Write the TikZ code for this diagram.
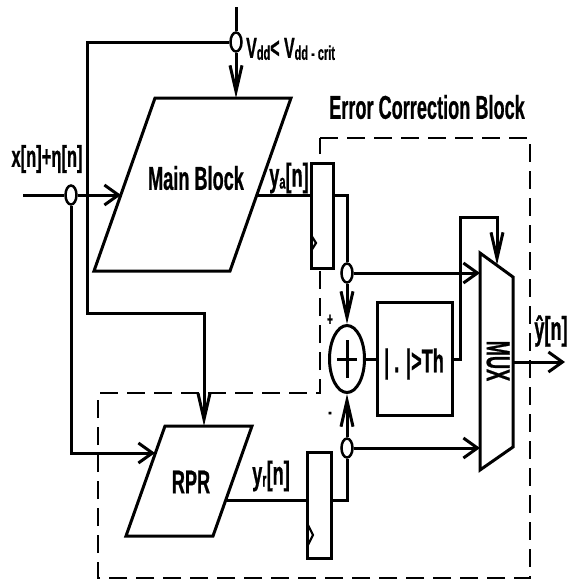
\documentclass[tikz,border=0pt]{standalone}
\usepackage{fontspec}
\setmainfont{Liberation Sans}[FakeStretch=0.55, BoldFeatures={FakeBold=0.6}]
\usetikzlibrary{arrows.meta,shapes.geometric}
\newcommand\lsub[1]{\raisebox{-2pt}{\fontsize{20}{20}\selectfont #1}}
\begin{document}
\begin{tikzpicture}[x=1pt,y=-1pt,
  ln/.style={line width=3pt},
  dsh/.style={line width=2pt, dash pattern=on 18pt off 9pt},
  harr/.style={-{Straight Barb[length=14pt,width=20pt]}},
  varr/.style={-{Straight Barb[length=26pt,width=12pt]}},
  junc/.style={draw, ellipse, line width=2.5pt, fill=white, minimum width=11pt, minimum height=19pt, inner sep=0pt},
  reg/.style={draw, line width=3pt, fill=white, inner sep=0pt},
  txt/.style={font=\fontsize{33}{34}\selectfont\bfseries, inner sep=0pt},
  lbl/.style={font=\fontsize{29}{30}\selectfont\bfseries, inner sep=0pt}]
\useasboundingbox (0,0) rectangle (567,581);
% dashed error correction outline
\draw[dsh] (320,138) -- (530,138) -- (530,578) -- (98,578) -- (98,393) -- (320,393) -- cycle;
% main block
\coordinate (m1) at (155,98); \coordinate (m2) at (291,98);
\coordinate (m3) at (230,271); \coordinate (m4) at (94,271);
\draw[ln] (m1) -- (m2) -- (m3) -- (m4) -- cycle;
\node[txt] (main) at (196,178) {Main Block};
\coordinate (maintop) at (236,98);
\coordinate (mainin) at (121,195);
\coordinate (mainout) at (257,195);
% RPR
\coordinate (r1) at (165,426); \coordinate (r2) at (252,426);
\coordinate (r3) at (213,536); \coordinate (r4) at (126,536);
\draw[ln] (r1) -- (r2) -- (r3) -- (r4) -- cycle;
\node[txt] (rpr) at (191,482) {RPR};
\coordinate (rprtop) at (204,426);
\coordinate (rprin) at (155,453);
\coordinate (rprout) at (226,500);
% Vdd
\coordinate (vtop) at (236,7);
\node[junc] (jv) at (236,42) {};
\coordinate (vturn) at (87,42);
\coordinate (c1) at (87,313);
\draw[ln] (vtop) -- (jv.north);
\draw[ln,varr] (jv.south) -- (maintop);
\draw[ln,varr] (jv.west) -- (vturn) -- (c1) -| (rprtop);
% input
\coordinate (xin) at (23,195);
\node[junc] (jx) at (71,195) {};
\draw[ln] (xin) -- (jx.west);
\draw[ln,harr] (jx.east) -- (mainin);
\draw[ln,harr] (jx.south) |- (rprin);
% registers
\node[reg, minimum width=22pt, minimum height=105pt] (rega) at (322,215.5) {};
\draw[line width=2.2pt] (311,235) -- (316,243) -- (311,251);
\node[reg, minimum width=24pt, minimum height=106pt] (regb) at (319,505) {};
\draw[line width=2.2pt] (307,523) -- (313,535) -- (307,547);
% junctions after registers
\node[junc] (ja) at (347,273) {};
\node[junc] (jb) at (347,448) {};
% adder
\node[draw, ellipse, line width=3pt, minimum width=35pt, minimum height=67pt, inner sep=0pt] (add) at (347,359) {};
\draw[ln] (add.center) ++(-10,0) -- ++(20,0);
\draw[ln] (add.center) ++(0,-19) -- ++(0,38);
% threshold box
\node[draw, line width=3pt, minimum width=75pt, minimum height=113pt, inner sep=0pt] (th) at (414.5,359) {};
\node[txt] (thl) at (414,364) {| . |>Th};
% MUX
\coordinate (mx1) at (480,253); \coordinate (mx2) at (513,277);
\coordinate (mx3) at (513,447); \coordinate (mx4) at (480,470);
\draw[ln] (mx1) -- (mx2) -- (mx3) -- (mx4) -- cycle;
\node[txt, rotate=-90] (muxl) at (498,361) {MUX};
\coordinate (muxa) at (480,273);
\coordinate (muxb) at (480,448);
\coordinate (muxtop) at (497,265);
\coordinate (tha) at (460,217);
\coordinate (muxout) at (513,362);
\coordinate (yout) at (565,362);
% connectors
\draw[ln] (mainout) -- (mainout -| rega.west);
\draw[ln] (rega.east |- mainout) -| (ja.north);
\draw[ln,harr] (ja.east) -- (muxa);
\draw[ln,varr] (ja.south) -- (add.north);
\draw[ln,varr] (jb.north) -- (add.south);
\draw[ln] (add.east) -- (th.west);
\draw[ln,varr] (th.east) -| (tha) -| (muxtop);
\draw[ln,harr] (jb.east) -- (muxb);
\draw[ln] (rprout) -- (rprout -| regb.west);
\draw[ln] (regb.east |- rprout) -| (jb.south);
\draw[ln,harr] (muxout) -- (yout);
% labels
\node[txt, font=\fontsize{30}{32}\selectfont\bfseries] (xl) at (47,159) {x[n]+η[n]};
\node[lbl, anchor=west] (vl) at (246,49) {V\lsub{dd}< V\lsub{dd - crit}};
\node[txt] (ecb) at (427,107) {Error Correction Block};
\node[txt] (yal) at (289,178) {y\lsub{a}[n]};
\node[txt] (yrl) at (271,476) {y\lsub{r}[n]};
\node[txt] (yhl) at (551,331) {ŷ[n]};
\node[font=\fontsize{18}{18}\selectfont\bfseries, inner sep=0pt] (plus) at (330,320) {+};
\node[font=\fontsize{20}{20}\selectfont\bfseries, inner sep=0pt] (minus) at (330,415) {-};
\end{tikzpicture}
\end{document}
